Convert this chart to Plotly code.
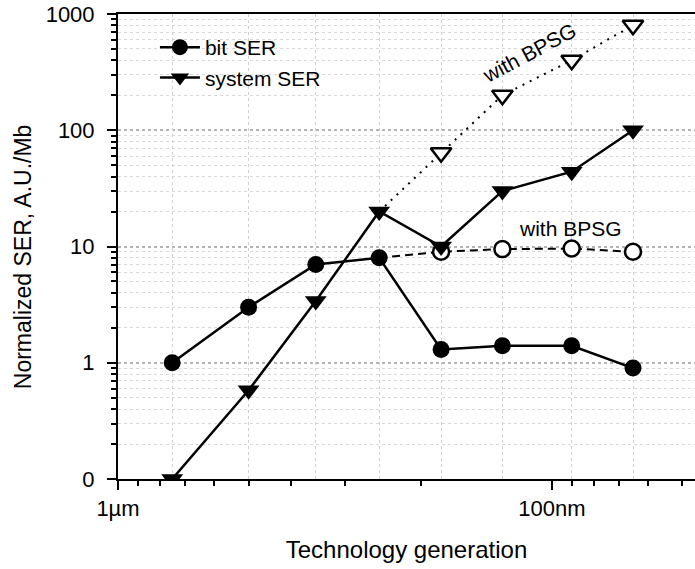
import plotly.graph_objects as go

# Technology nodes (nm)
nodes = [750, 500, 350, 250, 180, 130, 90, 65]
bit_ser = [1.0, 3.0, 7.0, 8.0, 1.3, 1.4, 1.4, 0.9]
system_ser = [0.1, 0.58, 3.4, 20, 10, 30, 44, 100]

bpsg_nodes = [250, 180, 130, 90, 65]
bit_ser_bpsg = [8.0, 9.0, 9.5, 9.6, 9.0]
system_ser_bpsg = [20, 64, 200, 400, 800]

x_tickvals = [1000, 100]
x_ticktext = ["1µm", "100nm"]
x_minor = [900, 800, 700, 600, 500, 400, 300, 200, 90, 80, 70, 60, 50]
y_tickvals = [0.1, 1, 10, 100, 1000]
y_ticktext = ["0", "1", "10", "100", "1000"]
y_minor = [m * d for d in (0.1, 1, 10, 100) for m in range(2, 10)]

FONT = "Liberation Sans, Arial, sans-serif"

fig = go.Figure()

# dashed/dotted "with BPSG" series lines (drawn first, underneath)
fig.add_trace(go.Scatter(
    x=bpsg_nodes, y=system_ser_bpsg, mode="lines", showlegend=False,
    line=dict(color="black", width=2, dash="2px,6px"),
))
fig.add_trace(go.Scatter(
    x=bpsg_nodes, y=bit_ser_bpsg, mode="lines", showlegend=False,
    line=dict(color="black", width=2, dash="8px,5px"),
))
# open markers (white fill hides the line inside)
fig.add_trace(go.Scatter(
    x=bpsg_nodes[1:], y=system_ser_bpsg[1:], mode="markers", showlegend=False,
    marker=dict(symbol="triangle-down", size=18, color="white", opacity=1,
                line=dict(color="black", width=2.5)),
))
fig.add_trace(go.Scatter(
    x=bpsg_nodes[1:], y=bit_ser_bpsg[1:], mode="markers", showlegend=False,
    marker=dict(symbol="circle", size=16, color="white", opacity=1,
                line=dict(color="black", width=2.5)),
))
fig.add_trace(go.Scatter(
    x=nodes, y=bit_ser, mode="lines+markers", name="bit SER",
    line=dict(color="black", width=2.5),
    marker=dict(symbol="circle", size=17, color="black"),
))
fig.add_trace(go.Scatter(
    x=nodes, y=system_ser, mode="lines+markers", name="system SER",
    line=dict(color="black", width=2.5),
    marker=dict(symbol="triangle-down", size=19, color="black"),
))
# invisible trace on grid axis
fig.add_trace(go.Scatter(
    x=nodes, y=bit_ser, xaxis="x2", mode="markers", showlegend=False,
    marker=dict(opacity=0), hoverinfo="skip",
))

xr = [3, 1.670]
fig.update_layout(
    width=695, height=569,
    margin=dict(l=118, r=0, t=14, b=90),
    paper_bgcolor="white", plot_bgcolor="white",
    font=dict(family=FONT, size=22, color="black"),
    showlegend=True,
    legend=dict(x=0.064, y=0.972, xanchor="left", yanchor="top",
                bgcolor="rgba(0,0,0,0)", font=dict(size=21),
                tracegroupgap=0, itemwidth=40),
    xaxis=dict(
        type="log", range=xr, tickmode="array", tickvals=x_tickvals,
        ticktext=x_ticktext, ticks="outside", ticklen=9, tickwidth=2,
        tickcolor="black", showline=True, linecolor="black", linewidth=2,
        mirror=True, showgrid=False, zeroline=False,
        tickfont=dict(size=22),
        minor=dict(tickmode="array", tickvals=x_minor, ticks="outside",
                   ticklen=5, tickwidth=1.5, tickcolor="black", showgrid=False),
        title=dict(text="Technology generation", standoff=21,
                   font=dict(size=24)),
    ),
    xaxis2=dict(
        type="log", range=xr, overlaying="x", tickmode="array",
        tickvals=nodes, showticklabels=False, ticks="", showline=False,
        showgrid=True, gridcolor="#cfcfcf", griddash="dot", gridwidth=1,
        zeroline=False,
    ),
    yaxis=dict(
        type="log", range=[-1, 3], tickmode="array", tickvals=y_tickvals,
        ticktext=y_ticktext, ticks="outside", ticklen=9, tickwidth=2,
        tickcolor="black", showline=True, linecolor="black", linewidth=2,
        showgrid=True, gridcolor="#b5b5b5", griddash="dot", gridwidth=2,
        zeroline=False, tickfont=dict(size=22), ticklabelstandoff=8,
        minor=dict(tickmode="array", tickvals=y_minor, ticks="outside",
                   ticklen=5, tickwidth=1.5, tickcolor="black",
                   showgrid=True, gridcolor="#d8d8d8", griddash="dot",
                   gridwidth=1),
    ),
    annotations=[
        dict(x=-0.1646, y=0.477, xref="paper", yref="paper",
             text="Normalized SER, A.U./Mb", textangle=-90, showarrow=False,
             xanchor="center", yanchor="middle", font=dict(size=23)),
        dict(x=2.051, y=2.665, xref="x", yref="y", text="with BPSG",
             showarrow=False, textangle=-28, font=dict(size=21)),
        dict(x=1.956, y=1.159, xref="x", yref="y", text="with BPSG",
             showarrow=False, font=dict(size=21)),
    ],
)

fig.write_html("out.html")
